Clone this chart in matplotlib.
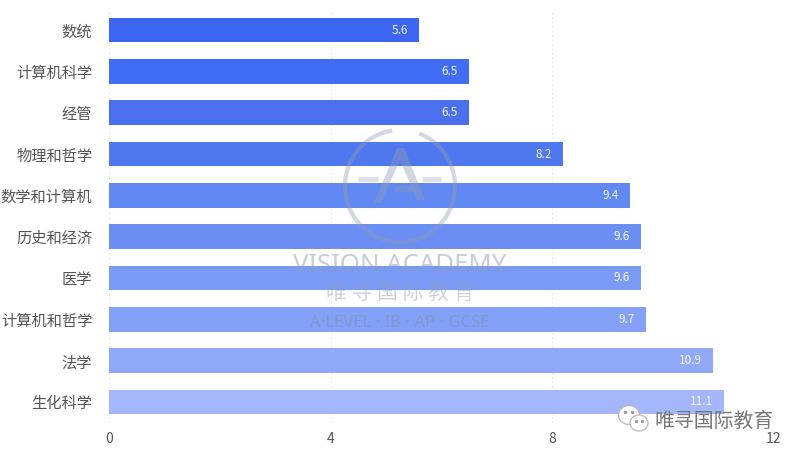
import matplotlib
matplotlib.use('Agg')
import matplotlib.pyplot as plt
from matplotlib.patches import Arc, Ellipse, Polygon

plt.rcParams['font.family'] = ['Noto Sans CJK SC', 'DejaVu Sans']

majors = ['数统', '计算机科学', '经管', '物理和哲学', '数学和计算机',
          '历史和经济', '医学', '计算机和哲学', '法学', '生化科学']
values = [5.6, 6.5, 6.5, 8.2, 9.4, 9.6, 9.6, 9.7, 10.9, 11.1]
bar_colors = ['#3c66f2', '#416cf5', '#4a70ee', '#5078ee', '#6288f2',
              '#6a8ef2', '#7a9af5', '#84a0f6', '#90a8f8', '#a4b6fc']
x_ticks = [0, 4, 8, 12]

W, H = 800, 457
fig = plt.figure(figsize=(W / 100, H / 100), dpi=100)
ax = fig.add_axes([109 / W, 1 - 422.5 / H, (773.5 - 109) / W, 413 / H])

positions = list(range(len(majors)))
ax.barh(positions, values, height=0.595, color=bar_colors, zorder=2)

for pos, val in zip(positions, values):
    ax.text(val - 0.2, pos, str(val), ha='right', va='center',
            color='white', fontsize=8.5, alpha=0.92, zorder=3)

ax.set_xlim(0, 12)
ax.set_ylim(len(majors) - 0.5, -0.5)
ax.set_yticks(positions)
ax.set_yticklabels(majors, fontsize=11, color='#555555')
ax.set_xticks(x_ticks)
ax.set_xticklabels([str(t) for t in x_ticks], fontsize=10, color='#555555')
ax.tick_params(axis='both', length=0)
ax.tick_params(axis='y', pad=12)
ax.tick_params(axis='x', pad=7)
ax.grid(axis='x', linestyle=(0, (1.5, 2.5)), color='#e6e6e6', linewidth=0.8, zorder=1)
ax.set_axisbelow(True)
for spine in ax.spines.values():
    spine.set_visible(False)

# overlay in pixel coordinates for the watermark and the WeChat mark
ov = fig.add_axes([0, 0, 1, 1], facecolor='none')
ov.set_xlim(0, W)
ov.set_ylim(H, 0)
ov.axis('off')

mark = '#8f9db5'
ov.add_patch(Arc((400, 186), 110, 112, theta1=-70, theta2=262, color=mark, lw=3, alpha=0.4))
ov.add_patch(Polygon([(397, 148), (404, 148), (425, 200), (417, 200), (400, 160),
                      (381, 203), (374, 203)], closed=True, color=mark, alpha=0.42, lw=0))
ov.add_patch(Polygon([(396, 186), (414, 186), (418, 192), (394, 192)], closed=True,
                     color=mark, alpha=0.35, lw=0))
ov.plot([358, 378], [179, 179], color=mark, lw=3.5, alpha=0.32, solid_capstyle='butt')
ov.plot([422, 441], [179, 179], color=mark, lw=3.5, alpha=0.32, solid_capstyle='butt')

ov.text(400, 265, 'VISION ACADEMY', ha='center', va='center', fontsize=18.5,
        color=mark, alpha=0.5, family='Noto Sans', fontweight='medium')
ov.text(400, 293, '唯 寻 国 际 教 育', ha='center', va='center', fontsize=15,
        color=mark, alpha=0.45)
ov.text(400, 323, 'A·LEVEL · IB · AP · GCSE', ha='center', va='center', fontsize=12,
        color='#7f8fb0', alpha=0.5, family='Noto Sans')

# WeChat footer
ov.add_patch(Ellipse((629, 415), 21, 19, fc='white', ec='#b5b5b5', lw=0.9, alpha=0.95, zorder=5))
ov.add_patch(Ellipse((639, 423), 18, 16, fc='white', ec='#b5b5b5', lw=0.9, alpha=0.95, zorder=6))
ov.plot([625, 632, 636, 642], [412, 412, 421, 421], ls='none', marker='o', ms=1.4,
        color='#999999', zorder=7)
ov.text(654, 421, '唯寻国际教育', ha='left', va='center', fontsize=14.3,
        color='#777777', zorder=7)

fig.savefig('out.png', dpi=100, facecolor='white')
